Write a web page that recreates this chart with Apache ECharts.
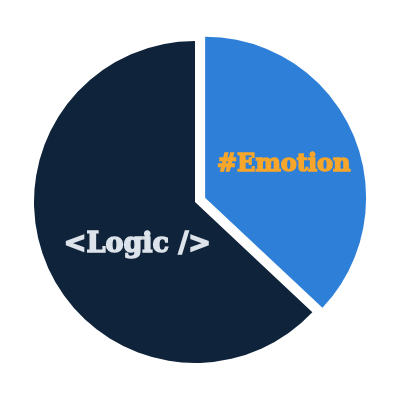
<!DOCTYPE html>
<html>
<head>
<meta charset="utf-8">
<script src="https://cdn.jsdelivr.net/npm/echarts@6/dist/echarts.min.js"></script>
<style>
  html, body { margin: 0; padding: 0; background: #fff; }
  #chart { width: 400px; height: 400px; }
</style>
</head>
<body>
<div id="chart"></div>
<script>
// slice data, clockwise from 12 o'clock
const names  = ['#Emotion', '<Logic />']
const values = [37, 63]
const colors = ['#2e7fd8', '#0f233a']
const labelColors = ['#f6a62a', '#dde3ea']
const labelSizes = [24, 27]
// small nudges so labels sit where the reference has them
const labelShift = [[2, 0], [19, 10]]

const chart = echarts.init(document.getElementById('chart'), null, { renderer: 'canvas' })

chart.setOption({
  backgroundColor: '#fff',
  animation: false,
  series: [{
    type: 'pie',
    center: [195, 202],
    radius: 161,
    startAngle: 90,
    clockwise: true,
    selectedMode: 'single',
    selectedOffset: 11,
    avoidLabelOverlap: false,
    label: {
      show: true,
      position: 'inside',
      fontFamily: 'DejaVu Serif',
      fontWeight: 'bold',
      textBorderWidth: 1.5,
    },
    labelLine: { show: false },
    labelLayout: (p) => ({ dx: labelShift[p.dataIndex][0], dy: labelShift[p.dataIndex][1] }),
    emphasis: { disabled: true },
    data: names.map((n, i) => ({
      name: n,
      value: values[i],
      selected: i === 0,
      itemStyle: { color: colors[i] },
      label: { color: labelColors[i], textBorderColor: labelColors[i], fontSize: labelSizes[i] },
    })),
  }],
})
</script>
</body>
</html>
